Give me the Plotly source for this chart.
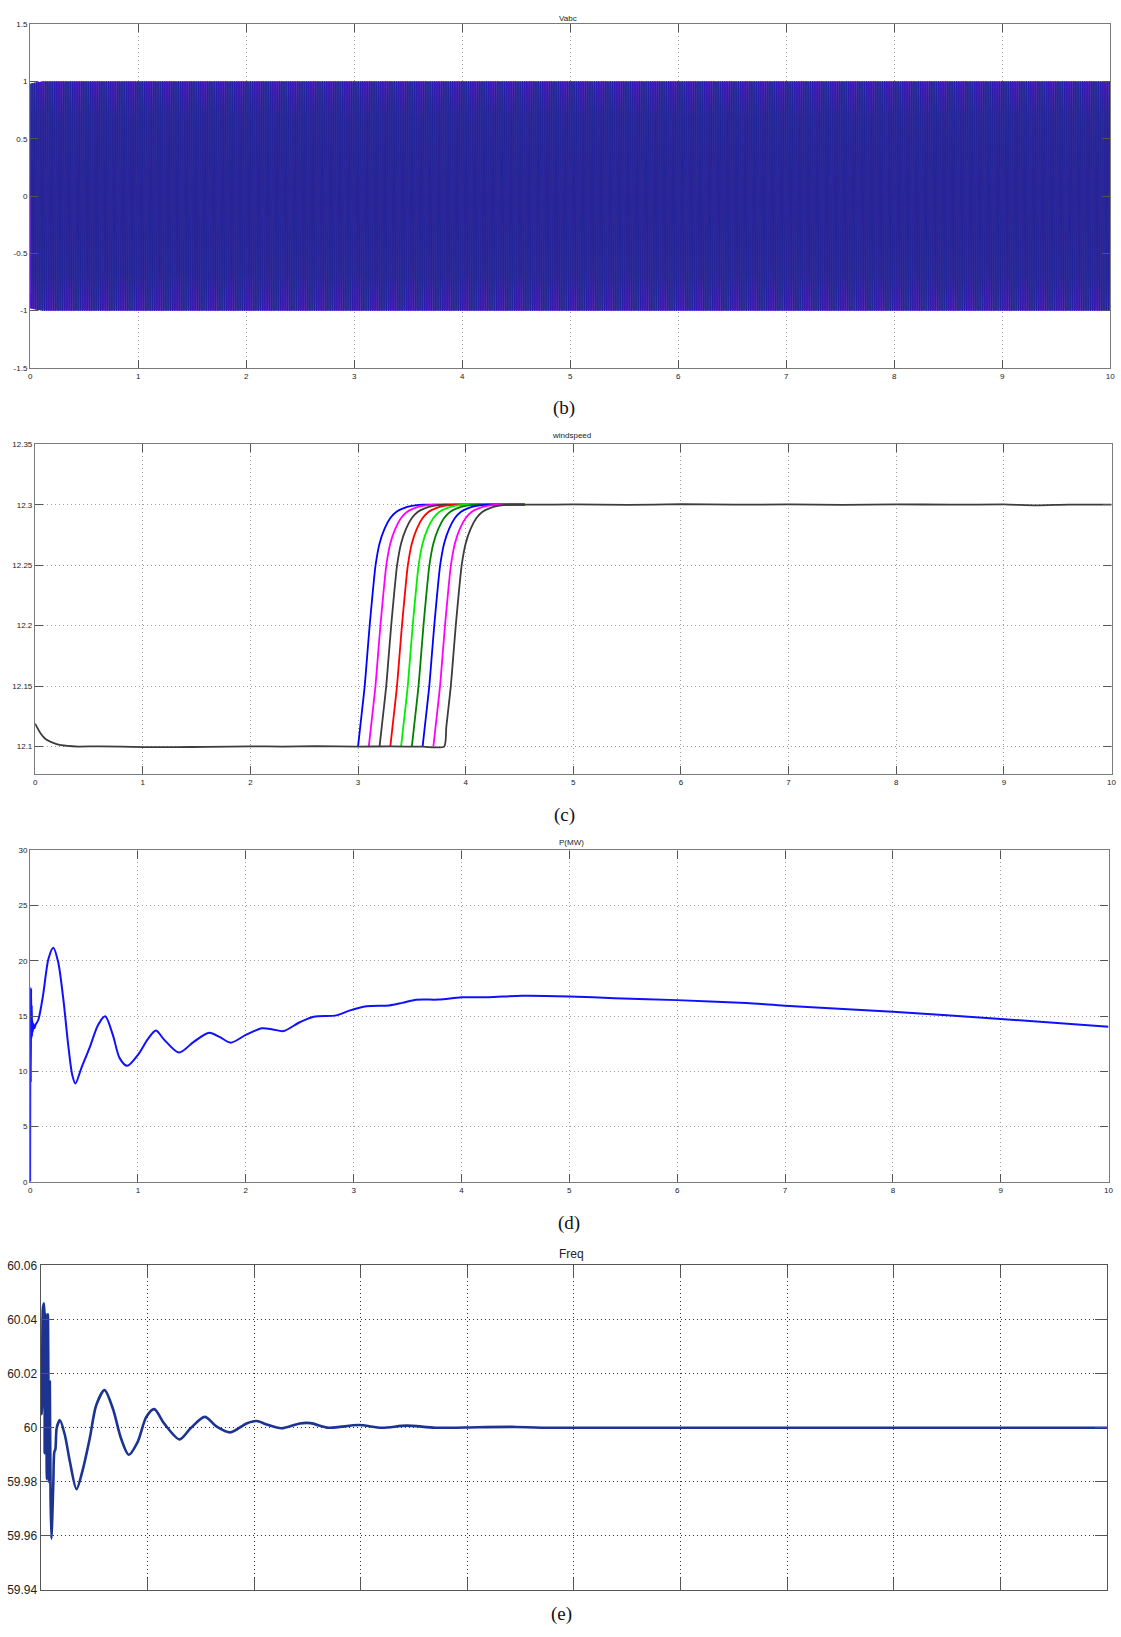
import numpy as np
import plotly.graph_objects as go

W, H = 1121, 1637

# ---------------- (b) Vabc : three-phase grid voltage (p.u.) ----------------
vabc_freq_hz = 60.0
vabc_phase_deg = [0.0, -120.0, 120.0]
vabc_env_t = [0.0, 0.05, 0.12, 10.0]          # envelope
vabc_env_amp = [0.98, 0.99, 1.0, 1.0]
vabc_colors = ["#1b2a86", "#0000ff", "#ff00ff"]

# ---------------- (c) windspeed ----------------
ws_start_times = [3.0, 3.1, 3.2, 3.3, 3.4, 3.5, 3.6, 3.7]
ws_colors = ["#0000ff", "#ff00ff", "#3c3c3c", "#ff0000", "#00ee00", "#008000", "#0000ff", "#ff00ff"]
ws_rise_dt = [0.0, 0.02, 0.04, 0.062, 0.085, 0.108, 0.135, 0.163, 0.2, 0.246, 0.3, 0.354, 0.42, 0.5, 0.6, 0.75]
ws_rise_val = [12.1, 12.116, 12.132, 12.15, 12.175, 12.2, 12.226, 12.25, 12.268, 12.28, 12.289, 12.294,
               12.297, 12.299, 12.3, 12.3]
ws_colored_end = 4.55
ws_base_t = [0.0, 0.05, 0.1, 0.2, 0.3, 0.4, 0.6, 1.0, 1.3, 1.6, 2.0, 2.3, 2.6, 3.0, 3.3, 3.6, 3.8]
ws_base_v = [12.119, 12.111, 12.106, 12.102, 12.1005, 12.1, 12.1002, 12.0996, 12.0995, 12.0998,
             12.1002, 12.1, 12.1004, 12.1, 12.1001, 12.0999, 12.1]
ws_last_start = 3.8
ws_tail_t = [4.6, 5.0, 5.5, 6.0, 6.5, 7.0, 7.5, 8.0, 8.5, 9.0, 9.3, 9.6, 10.0]
ws_tail_v = [12.3, 12.3002, 12.2998, 12.3004, 12.3, 12.3002, 12.2999, 12.3003, 12.3, 12.3002, 12.2994, 12.3001, 12.3]

# ---------------- (d) P(MW) ----------------
p_t = [0.0, 0.003, 0.006, 0.009, 0.012, 0.015, 0.018, 0.021, 0.025, 0.03, 0.04, 0.05, 0.077, 0.12, 0.17,
       0.215, 0.26, 0.307, 0.353, 0.39, 0.42, 0.475, 0.55, 0.63, 0.696, 0.767, 0.83, 0.9, 1.0, 1.09,
       1.166, 1.24, 1.38, 1.52, 1.66, 1.76, 1.86, 2.0, 2.15, 2.25, 2.35, 2.5, 2.63, 2.84, 2.96, 3.12,
       3.33, 3.45, 3.58, 3.79, 4.0, 4.25, 4.56, 5.0, 5.42, 6.0, 6.64, 7.0, 8.0, 9.0, 10.0]
p_v = [0.0, 17.6, 9.0, 17.5, 13.0, 16.0, 13.2, 14.6, 13.6, 14.3, 13.9, 14.2, 14.7, 16.9, 20.2,
       21.2, 19.9, 16.6, 12.4, 9.7, 8.9, 10.3, 12.1, 14.2, 15.0, 13.3, 11.2, 10.5, 11.5, 12.9,
       13.7, 12.9, 11.7, 12.7, 13.5, 13.1, 12.6, 13.3, 13.9, 13.8, 13.65, 14.45, 14.95, 15.07, 15.5, 15.9,
       15.97, 16.2, 16.48, 16.5, 16.7, 16.72, 16.84, 16.78, 16.63, 16.45, 16.18, 15.95, 15.4, 14.75, 14.05]

# ---------------- (e) Freq ----------------
f_t = [0.0, 0.01, 0.02, 0.03, 0.037, 0.047, 0.057, 0.067, 0.077, 0.085, 0.092, 0.1, 0.108,
       0.118, 0.127, 0.137, 0.15, 0.18, 0.226, 0.273, 0.335, 0.397, 0.459, 0.52, 0.598, 0.676,
       0.753, 0.825, 0.909, 0.99, 1.064, 1.157, 1.302, 1.405, 1.538, 1.65, 1.777, 1.93, 2.025,
       2.118, 2.257, 2.43, 2.53, 2.7, 2.98, 3.2, 3.43, 3.7, 4.1, 4.46, 4.7, 10.0]
f_v = [60.008, 60.005, 60.044, 60.046, 59.9906, 60.042, 59.981, 60.042, 59.98, 60.017, 59.974,
       59.959, 59.967, 59.98, 59.991, 59.992, 60.0, 60.0028, 59.9973, 59.9875, 59.9773, 59.985,
       59.996, 60.0083, 60.0139, 60.0071, 59.996, 59.99, 59.9948, 60.004, 60.0069, 60.0016, 59.9957,
       59.9998, 60.004, 60.0004, 59.9983, 60.0016, 60.0025, 60.0012, 59.9998, 60.0016, 60.0017,
       60.0, 60.001, 60.0, 60.0008, 60.0, 60.0002, 60.0003, 60.0, 60.0]

x_ticks = list(range(0, 11))
x_range = [-1e-4, 10.0001]


def dom_x(a, b):
    return [a / W, b / W]


def dom_y(top, bottom):
    return [1 - bottom / H, 1 - top / H]


fig = go.Figure()

# (b) Vabc traces
t = np.arange(0.0, 10.0 + 1e-9, 1.0 / (vabc_freq_hz * 24))
env = np.interp(t, vabc_env_t, vabc_env_amp)
for k, op, wd in [(1, 1.0, 1.0), (2, 0.5, 1.0), (0, 0.85, 1.5)]:
    y = env * np.sin(2 * np.pi * vabc_freq_hz * t + np.deg2rad(vabc_phase_deg[k]))
    fig.add_trace(go.Scatter(x=t, y=y, mode="lines", xaxis="x", yaxis="y",
                             line=dict(color=vabc_colors[k], width=wd),
                             opacity=op, hoverinfo="skip"))

# (c) windspeed traces
prof_dt = np.array(ws_rise_dt)
for st, col in zip(ws_start_times, ws_colors):
    xs = list(st + prof_dt) + [ws_colored_end]
    ys = list(ws_rise_val) + [ws_rise_val[-1]]
    fig.add_trace(go.Scatter(x=xs, y=ys, mode="lines", xaxis="x2", yaxis="y2",
                             line=dict(color=col, width=1.8, shape="spline", smoothing=0.6)))
gx = ws_base_t + list(ws_last_start + prof_dt)[1:] + ws_tail_t
gy = ws_base_v + list(ws_rise_val)[1:] + ws_tail_v
fig.add_trace(go.Scatter(x=gx, y=gy, mode="lines", xaxis="x2", yaxis="y2",
                         line=dict(color="#3c3c3c", width=1.8, shape="spline", smoothing=0.6)))

# (d) P(MW)
fig.add_trace(go.Scatter(x=p_t, y=p_v, mode="lines", xaxis="x3", yaxis="y3",
                         line=dict(color="#1010ff", width=2, shape="spline", smoothing=0.8)))

# (e) Freq
fig.add_trace(go.Scatter(x=f_t, y=f_v, mode="lines", xaxis="x4", yaxis="y4",
                         line=dict(color="#1c3392", width=2.6, shape="spline", smoothing=0.8)))

small_font = dict(family="Liberation Sans, Arial, sans-serif", size=8, color="#222222")
narrow_font = dict(family="Liberation Sans Narrow, Arial Narrow, Liberation Sans, sans-serif", size=12,
                   color="#222222")


def ax(font, ticklen=8, linecolor="#7a7a7a", gridcolor="#a0a0a0", **kw):
    d = dict(showline=True, linecolor=linecolor, linewidth=1.3, mirror="ticks", ticks="inside",
             ticklen=ticklen, tickcolor="#555555", tickwidth=1.2, showgrid=True, gridcolor=gridcolor,
             griddash="1px,3px", gridwidth=1, zeroline=False, tickfont=font, fixedrange=True,
             ticklabeloverflow="allow")
    d.update(kw)
    return d


layout = dict(
    width=W, height=H, margin=dict(l=0, r=0, t=0, b=0),
    paper_bgcolor="white", plot_bgcolor="white", showlegend=False,
    xaxis=ax(small_font, domain=dom_x(28.3, 1115.3), range=x_range, tickvals=x_ticks, anchor="y"),
    yaxis=ax(small_font, domain=dom_y(17.3, 364), range=[-1.5, 1.5],
             tickvals=[-1.5, -1, -0.5, 0, 0.5, 1, 1.5],
             ticktext=["-1.5", "-1", "-0.5", "0", "0.5", "1", "1.5"], anchor="x"),
    xaxis2=ax(small_font, domain=dom_x(33.3, 1116.5), range=x_range, tickvals=x_ticks, anchor="y2"),
    yaxis2=ax(small_font, domain=dom_y(441, 774), range=[12.077, 12.35],
              tickvals=[12.1, 12.15, 12.2, 12.25, 12.3, 12.35],
              ticktext=["12.1", "12.15", "12.2", "12.25", "12.3", "12.35"], anchor="x2"),
    xaxis3=ax(small_font, domain=dom_x(28.3, 1113.5), range=x_range, tickvals=x_ticks, anchor="y3"),
    yaxis3=ax(small_font, domain=dom_y(850.7, 1185), range=[0, 30],
              tickvals=[0, 5, 10, 15, 20, 25, 30], anchor="x3"),
    xaxis4=ax(narrow_font, ticklen=12, linecolor="#555555", gridcolor="#333333",
              domain=dom_x(39, 1112), range=x_range, tickvals=x_ticks, showticklabels=False, anchor="y4"),
    yaxis4=ax(narrow_font, ticklen=12, linecolor="#555555", gridcolor="#333333",
              domain=dom_y(1269.3, 1596.7), range=[59.94, 60.06],
              tickvals=[59.94, 59.96, 59.98, 60.0, 60.02, 60.04, 60.06],
              ticktext=["59.94", "59.96", "59.98", "60", "60.02", "60.04", "60.06"], anchor="x4"),
)

serif = dict(family="Liberation Serif, Times New Roman, serif", size=19, color="#111111")
annotations = []


def note(text, xpx, ypx, font):
    annotations.append(dict(text=text, x=xpx / W, y=1 - ypx / H, xref="paper", yref="paper",
                            showarrow=False, font=font, xanchor="center", yanchor="middle"))


note("Vabc", 570, 11.7, small_font)
note("windspeed", 573, 432, small_font)
note("P(MW)", 573, 843, small_font)
note("Freq", 573, 1258, dict(family="Liberation Sans Narrow, Arial Narrow, Liberation Sans, sans-serif",
                             size=12, color="#222"))
note("(b)", 566, 404, serif)
note("(c)", 566, 815, serif)
note("(d)", 571, 1226, serif)
note("(e)", 563, 1621, serif)
layout["annotations"] = annotations

fig.update_layout(**layout)
fig.write_html("out.html", config={"displayModeBar": False},
               post_script="document.body.style.margin='0';document.body.style.overflow='hidden';")
